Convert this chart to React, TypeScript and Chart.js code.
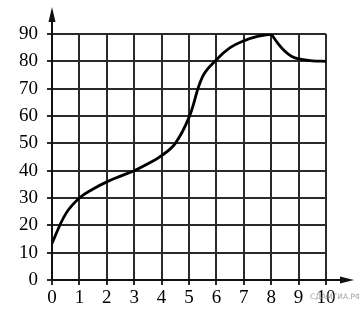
import React, { useEffect, useRef } from "react";
import { Chart, registerables } from "chart.js";

Chart.register(...registerables);

const xTicks = [0, 1, 2, 3, 4, 5, 6, 7, 8, 9, 10];
const yTicks = [0, 10, 20, 30, 40, 50, 60, 70, 80, 90];

const riseX = [0, 0.5, 1, 1.5, 2, 2.5, 3, 3.5, 4, 4.5, 5, 5.5, 6, 6.5, 7, 7.5, 8];
const riseY = [13.4, 24.2, 30, 33.3, 35.9, 38, 40, 42.5, 45.5, 50, 59.5, 74.5, 80.6, 85, 87.5, 89.1, 90];
const fallX = [8, 8.25, 8.5, 8.75, 9, 9.5, 10];
const fallY = [90, 86.5, 83.7, 81.8, 80.9, 80.2, 80];

const watermark = "СДАМГИА.РФ";

const axesPlugin = {
  id: "axesArrows",
  afterDraw(chart: any) {
    const { ctx, scales } = chart;
    const xs = scales.x;
    const ys = scales.y;
    const x0 = Math.round(xs.getPixelForValue(0));
    const y0 = Math.round(ys.getPixelForValue(0));
    const yTop = ys.getPixelForValue(90);
    const xRight = xs.getPixelForValue(10);
    ctx.save();
    ctx.strokeStyle = "#111";
    ctx.fillStyle = "#111";
    ctx.lineWidth = 2;
    ctx.beginPath();
    ctx.moveTo(x0, y0);
    ctx.lineTo(x0, yTop - 14);
    ctx.stroke();
    ctx.beginPath();
    ctx.moveTo(x0, yTop - 27);
    ctx.lineTo(x0 - 3.5, yTop - 12);
    ctx.lineTo(x0 + 3.5, yTop - 12);
    ctx.closePath();
    ctx.fill();
    ctx.beginPath();
    ctx.moveTo(x0, y0);
    ctx.lineTo(xRight + 16, y0);
    ctx.stroke();
    ctx.beginPath();
    ctx.moveTo(xRight + 28, y0);
    ctx.lineTo(xRight + 14, y0 - 3.5);
    ctx.lineTo(xRight + 14, y0 + 3.5);
    ctx.closePath();
    ctx.fill();
    ctx.fillStyle = "rgba(140,140,140,0.8)";
    ctx.font = "7.5px 'DejaVu Sans', sans-serif";
    ctx.textAlign = "left";
    ctx.textBaseline = "middle";
    ctx.fillText(watermark, 310, 297);
    ctx.restore();
  },
};

export default function App() {
  const ref = useRef<HTMLCanvasElement | null>(null);
  useEffect(() => {
    if (!ref.current) return;
    const mk = (xs: number[], ys: number[]) => xs.map((x, i) => ({ x, y: ys[i] }));
    const font = { family: "'Liberation Serif', 'Times New Roman', serif", size: 19 };
    const chart = new Chart(ref.current, {
      type: "line",
      data: {
        datasets: [
          {
            data: mk(riseX, riseY),
            borderColor: "#000",
            borderWidth: 2.8,
            pointRadius: 0,
            tension: 0.4,
            fill: false,
          },
          {
            data: mk(fallX, fallY),
            borderColor: "#000",
            borderWidth: 2.8,
            pointRadius: 0,
            tension: 0.4,
            fill: false,
          },
        ],
      },
      options: {
        animation: false,
        responsive: false,
        devicePixelRatio: 1,
        layout: { padding: { left: 0, right: 33, top: 34, bottom: 0 } },
        plugins: { legend: { display: false }, tooltip: { enabled: false } },
        scales: {
          x: {
            type: "linear",
            min: 0,
            max: 10,
            afterFit: (s: any) => {
              s.height = 44;
            },
            afterBuildTicks: (s: any) => {
              s.ticks = xTicks.map((v) => ({ value: v }));
            },
            grid: { color: "#2a2a2a", lineWidth: 2, tickLength: 5, drawTicks: true },
            border: { display: false },
            ticks: { color: "#000", font, padding: 2, maxRotation: 0, autoSkip: false },
          },
          y: {
            type: "linear",
            min: 0,
            max: 90,
            afterFit: (s: any) => {
              s.width = 52;
            },
            afterBuildTicks: (s: any) => {
              s.ticks = yTicks.map((v) => ({ value: v }));
            },
            grid: { color: "#2a2a2a", lineWidth: 2, tickLength: 5, drawTicks: true },
            border: { display: false },
            ticks: { color: "#000", font, padding: 9, autoSkip: false },
          },
        },
      },
      plugins: [axesPlugin],
    } as any);
    return () => chart.destroy();
  }, []);
  return (
    <div style={{ position: "absolute", left: 0, top: 0, width: 359, height: 324, background: "#fff" }}>
      <canvas ref={ref} width={359} height={324} style={{ display: "block" }} />
    </div>
  );
}
